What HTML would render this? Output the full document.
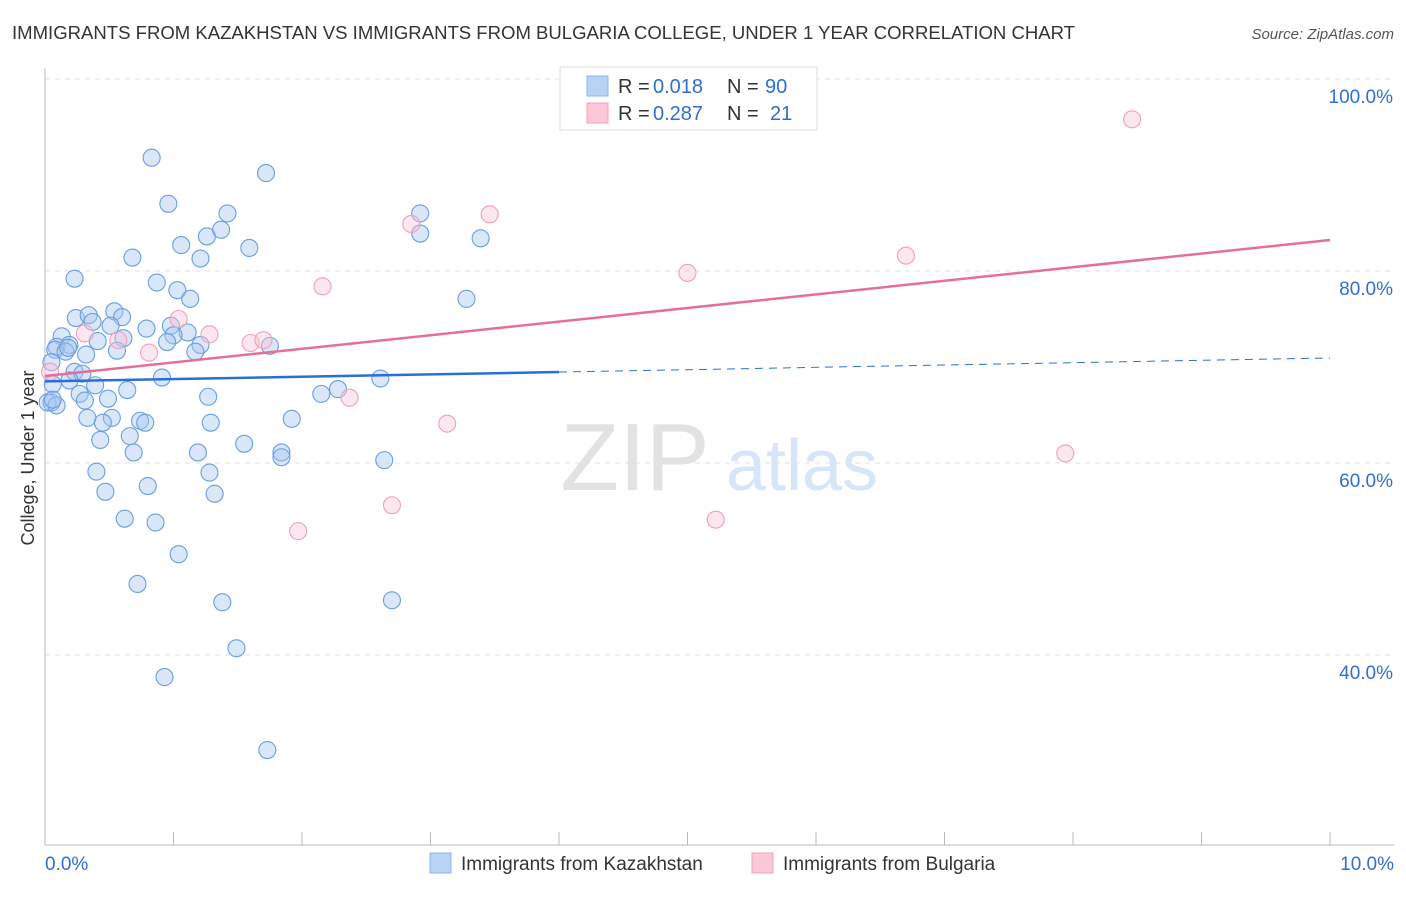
<!DOCTYPE html>
<html><head><meta charset="utf-8"><style>
body{margin:0;background:#fff;font-family:"Liberation Sans",sans-serif}
svg text{font-family:"Liberation Sans",sans-serif}
</style></head><body>
<svg id="c" width="1406" height="892" xmlns="http://www.w3.org/2000/svg">
<text x="12" y="39" font-size="18" fill="#333" textLength="1063" lengthAdjust="spacingAndGlyphs">IMMIGRANTS FROM KAZAKHSTAN VS IMMIGRANTS FROM BULGARIA COLLEGE, UNDER 1 YEAR CORRELATION CHART</text>
<text x="1394" y="39" font-size="15" fill="#555" font-style="italic" text-anchor="end">Source: ZipAtlas.com</text>
<text x="635" y="490" font-size="96" fill="#e2e2e2" font-family="Liberation Serif" text-anchor="middle">ZIP</text>
<text x="802" y="490" font-size="72" fill="#d6e5f7" text-anchor="middle">atlas</text>
<text x="34" y="458" font-size="18" fill="#333" text-anchor="middle" transform="rotate(-90 34 458)">College, Under 1 year</text>
<g id="grid"></g><g id="pts"></g><g id="lines"></g>
<g>
<rect x="560" y="67" width="257" height="63" fill="#fff" stroke="#ddd"/>
<rect x="587" y="76" width="21" height="20" fill="#b8d3f4" stroke="#8db4e8"/>
<rect x="587" y="103" width="21" height="20" fill="#fcc8d7" stroke="#f0a0b8"/>
<text x="618" y="93" font-size="20" fill="#333">R =</text>
<text x="653" y="93" font-size="20" fill="#2f6fd0">0.018</text>
<text x="727" y="93" font-size="20" fill="#333">N =</text>
<text x="765" y="93" font-size="20" fill="#2f6fd0">90</text>
<text x="618" y="120" font-size="20" fill="#333">R =</text>
<text x="653" y="120" font-size="20" fill="#2f6fd0">0.287</text>
<text x="727" y="120" font-size="20" fill="#333">N =</text>
<text x="770" y="120" font-size="20" fill="#2f6fd0">21</text>
</g>
<g>
<rect x="430" y="853" width="21" height="20" fill="#b8d3f4" stroke="#8db4e8"/>
<text x="461" y="870" font-size="19" fill="#333">Immigrants from Kazakhstan</text>
<rect x="752" y="853" width="21" height="20" fill="#fcc8d7" stroke="#f0a0b8"/>
<text x="783" y="870" font-size="19" fill="#333">Immigrants from Bulgaria</text>
</g>
<text x="45" y="870" font-size="19" fill="#2f6fd0">0.0%</text>
<text x="1394" y="870" font-size="19" fill="#2f6fd0" text-anchor="end">10.0%</text>
</svg>
<script>
const blueX=[0.83,1.72,0.96,1.42,2.92,1.26,1.37,2.92,3.39,1.06,1.59,0.68,1.21,0.23,0.87,1.03,1.13,3.28,0.54,0.24,0.34,0.60,0.37,0.51,0.98,0.79,1.11,1.00,0.13,0.61,0.41,0.95,1.21,1.75,0.09,0.19,0.08,0.16,0.18,0.56,1.17,0.32,0.05,0.23,0.29,0.91,2.61,0.19,0.06,0.39,0.64,2.28,2.15,0.27,1.27,0.05,0.49,0.31,0.02,0.09,1.92,0.33,0.52,0.74,0.78,0.45,1.29,0.66,0.43,1.55,1.84,0.69,1.19,1.84,2.64,0.40,1.28,0.80,0.47,1.32,0.62,0.86,1.04,0.72,1.38,2.70,1.49,0.93,1.73,0.06];
const blueY=[91.8,90.2,87.0,86.0,86.0,83.6,84.3,83.9,83.4,82.7,82.4,81.4,81.3,79.2,78.8,78.0,77.1,77.1,75.8,75.1,75.4,75.2,74.7,74.3,74.3,74.0,73.6,73.3,73.2,73.0,72.7,72.6,72.3,72.2,72.1,72.3,71.8,71.6,72.0,71.7,71.6,71.3,70.5,69.5,69.3,68.9,68.8,68.6,68.2,68.1,67.6,67.7,67.2,67.2,66.9,66.3,66.7,66.5,66.3,66.0,64.6,64.7,64.7,64.4,64.2,64.2,64.2,62.8,62.4,62.0,61.1,61.1,61.1,60.6,60.3,59.1,59.0,57.6,57.0,56.8,54.2,53.8,50.5,47.4,45.5,45.7,40.7,37.7,30.1,66.6];
const pinkX=[5.67,8.46,3.46,2.85,6.70,5.00,2.16,1.04,1.28,0.31,0.57,1.60,1.70,0.81,0.04,2.37,3.13,7.94,2.70,5.22,1.97];
const pinkY=[99.9,95.8,85.9,84.9,81.6,79.8,78.4,75.0,73.4,73.5,72.8,72.5,72.8,71.5,69.5,66.8,64.1,61.0,55.6,54.1,52.9];
const yTicks=[100,80,60,40];
const yTickLabels=["100.0%","80.0%","60.0%","40.0%"];
const xTicks=[0,1,2,3,4,5,6,7,8,9,10];
const blueTrend=[68.5,70.94];
const pinkTrend=[69.06,83.23];
const blueSolidEnd=4.0;
const NS="http://www.w3.org/2000/svg";
const sx=v=>45+v*128.5, sy=v=>79+(100-v)*9.6;
function mk(t,a,p){const e=document.createElementNS(NS,t);for(const k in a)e.setAttribute(k,a[k]);p.appendChild(e);return e;}
const grid=document.getElementById('grid'),pts=document.getElementById('pts'),lines=document.getElementById('lines');
yTicks.forEach((v,i)=>{
 const l=mk('line',{x1:45,x2:1394,y1:sy(v),y2:sy(v),stroke:'#e2e2e2','stroke-dasharray':'5,5'},grid);
 
 
 const t=mk('text',{x:1393,y:sy(v)+24,'font-size':19,fill:'#2f6fd0','text-anchor':'end'},grid);
 t.textContent=yTickLabels[i];
 
 
});
const ax=mk('line',{x1:45,x2:45,y1:68,y2:845,stroke:'#bbb'},grid);


const bx=mk('line',{x1:45,x2:1394,y1:845,y2:845,stroke:'#bbb'},grid);


xTicks.forEach(v=>{
 const t=mk('line',{x1:sx(v),x2:sx(v),y1:832,y2:845,stroke:'#bbb'},grid);
 
 
});
blueX.forEach((x,i)=>{
 const c=mk('circle',{cx:sx(x),cy:sy(blueY[i]),r:8.5,fill:'rgba(165,198,240,0.42)',stroke:'#6a9ee0','stroke-width':1.1},pts);
 
 
});
pinkX.forEach((x,i)=>{
 const c=mk('circle',{cx:sx(x),cy:sy(pinkY[i]),r:8.5,fill:'rgba(250,195,212,0.4)',stroke:'#eea0ba','stroke-width':1.1},pts);
 
 
});
const bAt=x=>blueTrend[0]+(blueTrend[1]-blueTrend[0])*x/10;
let l1=mk('line',{x1:sx(0),y1:sy(bAt(0)),x2:sx(blueSolidEnd),y2:sy(bAt(blueSolidEnd)),stroke:'#2a6fd6','stroke-width':2.5},lines);


let l2=mk('line',{x1:sx(blueSolidEnd),y1:sy(bAt(blueSolidEnd)),x2:sx(10),y2:sy(bAt(10)),stroke:'#2a6fd6','stroke-width':1,'stroke-dasharray':'8,6'},lines);


let l3=mk('line',{x1:sx(0),y1:sy(pinkTrend[0]),x2:sx(10),y2:sy(pinkTrend[1]),stroke:'#e56f98','stroke-width':2.5},lines);


</script>
</body></html>
